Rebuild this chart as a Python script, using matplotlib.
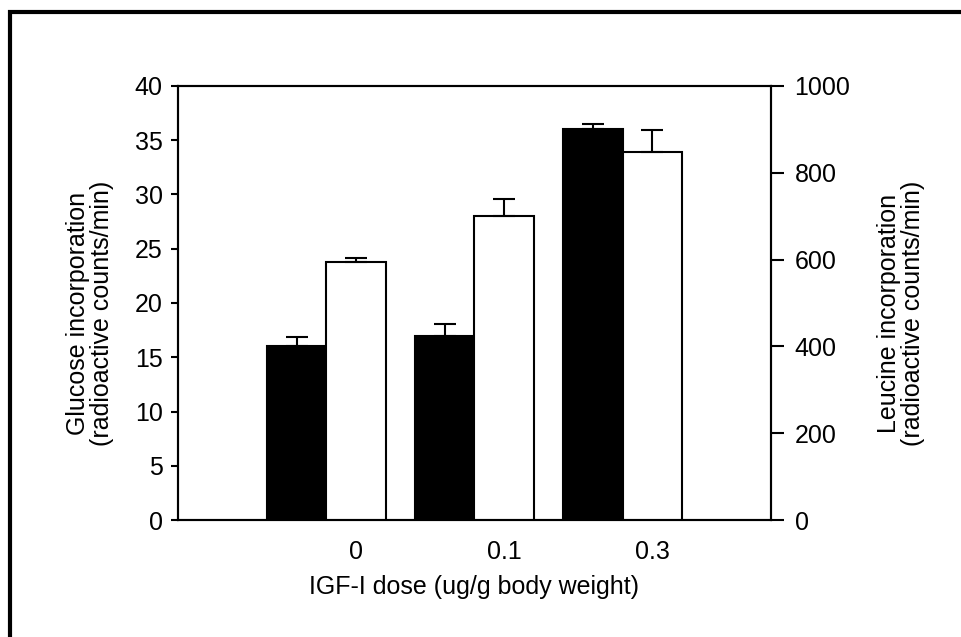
import matplotlib
matplotlib.use("Agg")
import matplotlib.pyplot as plt
from matplotlib.patches import Rectangle
import numpy as np

plt.rcParams['font.family'] = ['Liberation Sans', 'DejaVu Sans']

doses = ["0", "0.1", "0.3"]
glucose = [16.0, 17.0, 36.0]
glucose_err = [0.9, 1.1, 0.45]
leucine = [594, 700, 847]
leucine_err = [10, 40, 50]

W, H = 962, 637
fig = plt.figure(figsize=(W / 100, H / 100), dpi=100)
ax = fig.add_axes([178 / W, 1 - 520.3 / H, (771 - 178) / W, (520.3 - 85.7) / H])
ax2 = ax.twinx()

x = np.arange(len(doses))
width = 0.4

ax.bar(x - width / 2, glucose, width, color="black", edgecolor="black",
       linewidth=1.5, zorder=2)
ax.errorbar(x - width / 2, glucose, yerr=[np.zeros(3), glucose_err], fmt="none",
            ecolor="black", elinewidth=1.5, capsize=8, capthick=1.5, zorder=3)

ax2.bar(x + width / 2, leucine, width, color="white", edgecolor="black",
        linewidth=1.5, zorder=2)
ax2.errorbar(x + width / 2, leucine, yerr=[np.zeros(3), leucine_err], fmt="none",
             ecolor="black", elinewidth=1.5, capsize=8, capthick=1.5, zorder=3)

ax.set_xlim(-1, 3)
ax.set_ylim(0, 40)
ax2.set_ylim(0, 1000)
ax.set_yticks(np.arange(0, 41, 5))
ax2.set_yticks(np.arange(0, 1001, 200))
ax.set_xticks(x + 0.2)
ax.set_xticklabels(doses)

fs = 18
for a in (ax, ax2):
    for s in a.spines.values():
        s.set_linewidth(1.5)
ax.tick_params(axis="y", direction="out", length=5, width=1.5, labelsize=fs, pad=6)
ax2.tick_params(axis="y", direction="out", length=9, width=1.5, labelsize=fs, pad=8)
ax.tick_params(axis="x", length=0, labelsize=fs, pad=14)

ax.set_ylabel("Glucose incorporation\n(radioactive counts/min)", fontsize=fs,
              linespacing=1.0, labelpad=15)
ax2.set_ylabel("Leucine incorporation\n(radioactive counts/min)", fontsize=fs,
               linespacing=1.0, labelpad=19)
ax.yaxis.label.set_y(0.475)
ax2.yaxis.label.set_y(0.475)
ax.set_xlabel("IGF-I dose (ug/g body weight)", fontsize=fs, labelpad=8)

# outer frame running off the right and bottom edges
fig.patches.append(Rectangle((9.5 / W, -0.1), 1.2, 1.1 - 11.5 / H,
                             transform=fig.transFigure, fill=False,
                             edgecolor="black", linewidth=3))

fig.savefig("out.png", dpi=100)
